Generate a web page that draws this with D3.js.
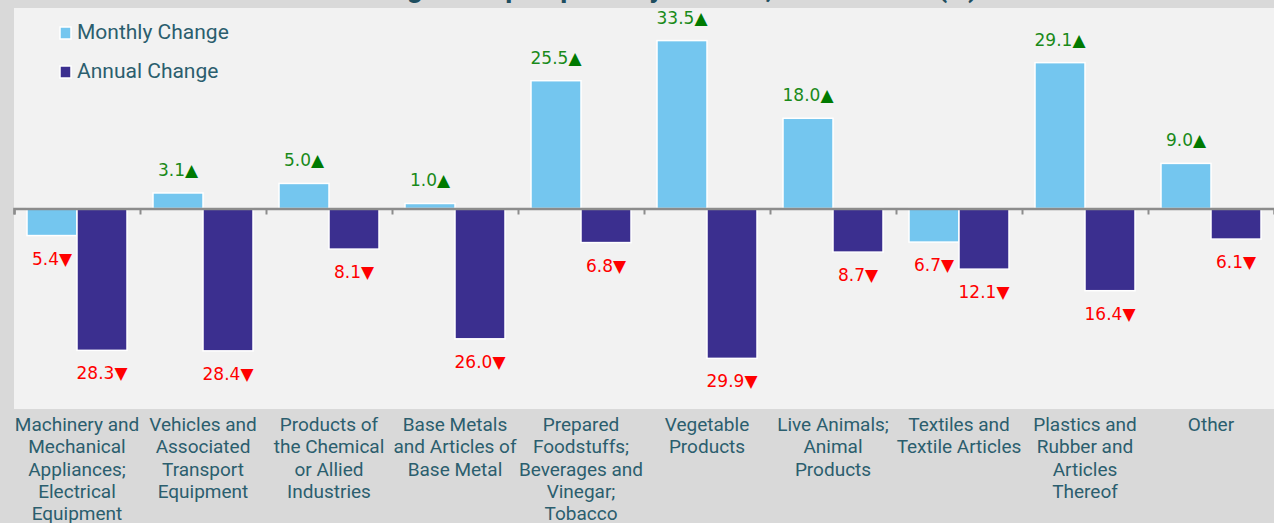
<!DOCTYPE html>
<html>
<head>
<meta charset="utf-8">
<script src="https://cdn.jsdelivr.net/npm/d3@7"></script>
<style>
  body { margin: 0; background: #d9d9d9; }
  svg { display: block; }
</style>
</head>
<body>
<svg id="chart"></svg>
<script>
// chart data
const categories = [
  ["Machinery and", "Mechanical", "Appliances;", "Electrical", "Equipment"],
  ["Vehicles and", "Associated", "Transport", "Equipment"],
  ["Products of", "the Chemical", "or Allied", "Industries"],
  ["Base Metals", "and Articles of", "Base Metal"],
  ["Prepared", "Foodstuffs;", "Beverages and", "Vinegar;", "Tobacco"],
  ["Vegetable", "Products"],
  ["Live Animals;", "Animal", "Products"],
  ["Textiles and", "Textile Articles"],
  ["Plastics and", "Rubber and", "Articles", "Thereof"],
  ["Other"]
];
const monthlyChange = [-5.4, 3.1, 5.0, 1.0, 25.5, 33.5, 18.0, -6.7, 29.1, 9.0];
const annualChange = [-28.3, -28.4, -8.1, -26.0, -6.8, -29.9, -8.7, -12.1, -16.4, -6.1];
const seriesNames = ["Monthly Change", "Annual Change"];
const title = "Change in Top Imports by Section, March 2023 (%)";

const W = 1274, H = 523;
const plot = {left: 14, right: 1274, top: 8, bottom: 409};
const textColor = "#2b5e6e";
const colors = ["#74c6ef", "#3b2f8f"];

const svg = d3.select("#chart").attr("width", W).attr("height", H);

// title, mostly cropped above the plot panel (as in the source image)
svg.append("text")
  .attr("x", 660).attr("y", -3)
  .attr("text-anchor", "middle")
  .attr("font-family", "Roboto, sans-serif")
  .attr("font-weight", "bold")
  .attr("font-size", 28)
  .attr("fill", "#1f4e5f")
  .text(title);

svg.append("rect")
  .attr("x", plot.left).attr("y", plot.top)
  .attr("width", plot.right - plot.left).attr("height", plot.bottom - plot.top)
  .attr("fill", "#f2f2f2");

const idx = d3.range(categories.length);
const x0 = d3.scaleBand().domain(idx).range([plot.left, plot.right]).paddingInner(0).paddingOuter(0);
const x1 = d3.scaleBand().domain([0, 1]).range([13, x0.bandwidth() - 13]);
const y = d3.scaleLinear().domain([-40, 40]).range([plot.bottom, plot.top]);

const rows = idx.map(i => ({i, values: [monthlyChange[i], annualChange[i]]}));

const groups = svg.append("g").selectAll("g")
  .data(rows).join("g")
  .attr("transform", d => `translate(${x0(d.i)},0)`);

groups.selectAll("rect")
  .data(d => d.values.map((v, s) => ({v, s})))
  .join("rect")
  .attr("x", d => x1(d.s))
  .attr("width", x1.bandwidth())
  .attr("y", d => y(Math.max(0, d.v)))
  .attr("height", d => Math.abs(y(d.v) - y(0)))
  .attr("fill", d => colors[d.s])
  .attr("stroke", "#ffffff")
  .attr("stroke-width", 1.5);

// zero axis with ticks between categories
const xAxis = d3.axisBottom(d3.scaleLinear().domain([0, categories.length]).range([plot.left, plot.right]))
  .tickValues(idx)
  .tickSize(6)
  .tickFormat("");
const axisG = svg.append("g")
  .attr("transform", `translate(0,${y(0)})`)
  .call(xAxis);
axisG.select(".domain").attr("stroke", "#8c8c8c").attr("stroke-width", 2.5);
axisG.selectAll(".tick line").attr("stroke", "#8c8c8c").attr("stroke-width", 2);

// value labels
const lbl = groups.selectAll("text.val")
  .data(d => d.values.map((v, s) => ({v, s})))
  .join("text")
  .attr("class", "val")
  .attr("x", d => x1(d.s) + x1.bandwidth() / 2)
  .attr("y", d => y(d.v) + (d.v >= 0 ? -17 : 29))
  .attr("text-anchor", "middle")
  .attr("font-family", "'DejaVu Sans', sans-serif")
  .attr("font-size", 17)
  .attr("fill", d => d.v >= 0 ? "#1a8a1a" : "#ff0000");
lbl.append("tspan").text(d => Math.abs(d.v).toFixed(1));
lbl.append("tspan")
  .attr("fill", d => d.v >= 0 ? "#007a00" : "#ff0000")
  .text(d => d.v >= 0 ? "\u25B2" : "\u25BC");

// category labels
groups.append("text")
  .attr("text-anchor", "middle")
  .attr("font-family", "Roboto, sans-serif")
  .attr("font-size", 19)
  .attr("fill", textColor)
  .selectAll("tspan")
  .data(d => categories[d.i])
  .join("tspan")
  .attr("x", x0.bandwidth() / 2)
  .attr("y", (d, k) => 431 + k * 22.3)
  .text(d => d);

// legend
const legend = svg.append("g").selectAll("g")
  .data(seriesNames).join("g")
  .attr("transform", (d, k) => `translate(60,${27 + k * 39})`);
legend.append("rect")
  .attr("width", 11).attr("height", 12)
  .attr("fill", (d, k) => colors[k])
  .attr("stroke", "#ffffff").attr("stroke-width", 1.5);
legend.append("text")
  .attr("x", 17).attr("y", 12)
  .attr("font-family", "Roboto, sans-serif")
  .attr("font-size", 21)
  .attr("fill", textColor)
  .text(d => d);
</script>
</body>
</html>
